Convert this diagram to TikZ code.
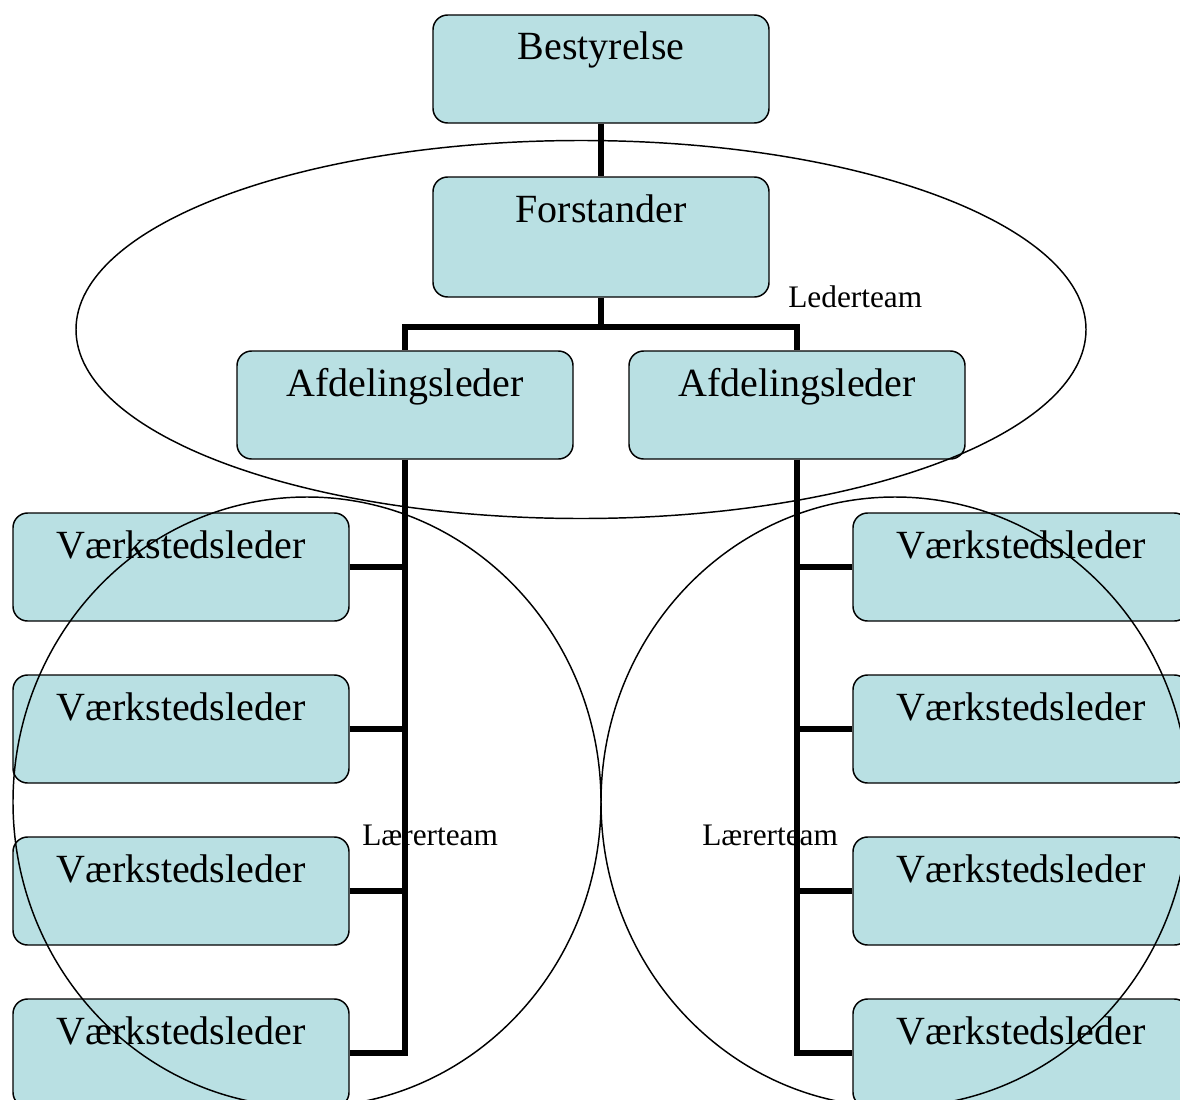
\documentclass[tikz,border=0pt]{standalone}
\usepackage{fontspec}
\setmainfont{Liberation Serif}
\definecolor{boxfill}{RGB}{185,224,227}
\tikzset{
  orgbox/.style={draw, line width=1.1pt, rounded corners=11pt, fill=boxfill, inner sep=0pt,
    minimum width=252pt, text height=33.75pt, text depth=47.25pt, font=\fontsize{30}{36}\selectfont},
  tallbox/.style={orgbox, text depth=56.25pt},
  link/.style={line width=4pt},
  team/.style={line width=1.1pt},
  teamlabel/.style={anchor=base west, inner sep=0pt, font=\fontsize{23.5}{28}\selectfont}
}
\begin{document}
\begin{tikzpicture}[x=0.75pt,y=0.75pt,yscale=-1,xscale=1]
	\useasboundingbox (0,0) rectangle (1180,1099);
	\clip (0,0) rectangle (1180,1099);
	
	%Shape: Rounded Rect (top)
	\node[orgbox] (best) at (601,69) {Bestyrelse};
	\node[tallbox] (forst) at (601,237) {Forstander};
	\node[orgbox] (afdL) at (405,405) {Afdelingsleder};
	\node[orgbox] (afdR) at (797,405) {Afdelingsleder};
	
	%Shape: Rounded Rect (workshops)
	\foreach \i/\y in {1/567,2/729,3/891,4/1053} {
		\node[orgbox] (vL\i) at (181,\y) {Værkstedsleder};
		\node[orgbox] (vR\i) at (1021,\y) {Værkstedsleder};
	}
	
	%Straight Lines
	\coordinate (split) at (601,327);
	\draw[link] (best.south) -- (forst.north);
	\draw[link] (forst.south) -- (split);
	\draw[link] (split) -| (afdL.north);
	\draw[link] (split) -| (afdR.north);
	\draw[link] (afdL.south) |- (vL4.east);
	\draw[link] (afdR.south) |- (vR4.west);
	\foreach \i in {1,2,3} {
		\draw[link] (vL\i.east) -- (vL\i.east -| afdL.south);
		\draw[link] (vR\i.west) -- (vR\i.west -| afdR.south);
	}
	
	%Shape: Ellipse
	\draw[team] (581,329.5) ellipse [x radius=505, y radius=189];
	\draw[team] (307,802) ellipse [x radius=294, y radius=305];
	\draw[team] (895,802) ellipse [x radius=294, y radius=305];
	
	% Text Node
	\node[teamlabel] (leder) at (788,307) {Lederteam};
	% Text Node
	\node[teamlabel] (laererL) at (362,845) {Lærerteam};
	% Text Node
	\node[teamlabel] (laererR) at (702,845) {Lærerteam};
	
\end{tikzpicture}
\end{document}
